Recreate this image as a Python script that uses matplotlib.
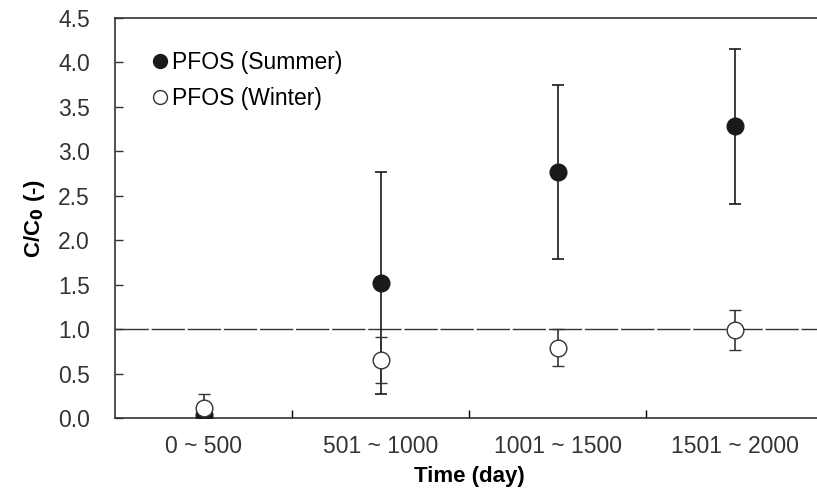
import matplotlib.pyplot as plt
from matplotlib.lines import Line2D

plt.rcParams['font.family'] = ['Liberation Sans', 'DejaVu Sans']

# Data
periods = ['0 ~ 500', '501 ~ 1000', '1001 ~ 1500', '1501 ~ 2000']
summer = [0.03, 1.52, 2.77, 3.28]
summer_err = [0.03, 1.25, 0.98, 0.87]
winter = [0.11, 0.65, 0.79, 0.99]
winter_err = [0.16, 0.26, 0.21, 0.22]
reference_level = 1.0

fig = plt.figure(figsize=(8.17, 4.93), dpi=100)
# axes run past the right edge of the figure, like the cropped original
ax = fig.add_axes([115 / 817, 75 / 493, 708 / 817, 400 / 493])

x = list(range(len(periods)))

ax.axhline(reference_level, color='#333333', lw=1.0, dashes=(24, 2), zorder=1)

ax.errorbar(x, summer, yerr=summer_err, fmt='o', color='#1a1a1a',
            markersize=12, capsize=4.5, elinewidth=1.2, capthick=1.2, zorder=3)
ax.errorbar(x, winter, yerr=winter_err, fmt='o', color='#333333',
            markerfacecolor='white', markeredgecolor='#333333', markeredgewidth=1.0,
            markersize=12, capsize=4.5, elinewidth=1.2, capthick=1.2, zorder=4)

ax.set_xlim(-0.5, len(periods) - 0.5)
ax.set_ylim(0, 4.5)
ax.set_yticks([i * 0.5 for i in range(10)])
ax.set_yticklabels([f'{i * 0.5:.1f}' for i in range(10)])

ax.set_xticks(x)
ax.set_xticklabels(periods)
ax.set_xticks([i + 0.5 for i in range(len(periods) - 1)], minor=True)
ax.tick_params(axis='x', which='major', length=0, pad=12, labelsize=16.5, colors='#333333')
ax.tick_params(axis='x', which='minor', direction='in', length=6, width=1.0)
ax.tick_params(axis='y', direction='in', length=6, width=1.0, pad=18,
               labelsize=16.5, colors='#333333')

for s in ['left', 'bottom', 'top', 'right']:
    ax.spines[s].set_linewidth(1.2)
    ax.spines[s].set_color('#333333')

ax.set_xlabel('Time (day)', fontsize=16, fontweight='bold', labelpad=6)
ax.set_ylabel('C/C$_\\mathbf{0}$ (-)', fontsize=16, fontweight='bold', labelpad=8)

handles = [
    Line2D([], [], ls='none', marker='o', markersize=10, color='#1a1a1a'),
    Line2D([], [], ls='none', marker='o', markersize=10, markerfacecolor='white',
           markeredgecolor='#333333', markeredgewidth=1.0),
]
ax.legend(handles, ['PFOS (Summer)', 'PFOS (Winter)'], loc='upper left',
          frameon=False, fontsize=16.5, handletextpad=0.0, handlelength=1.0,
          labelspacing=0.55, borderaxespad=0.0, bbox_to_anchor=(0.035, 0.94))

fig.savefig('out.png', dpi=100)
